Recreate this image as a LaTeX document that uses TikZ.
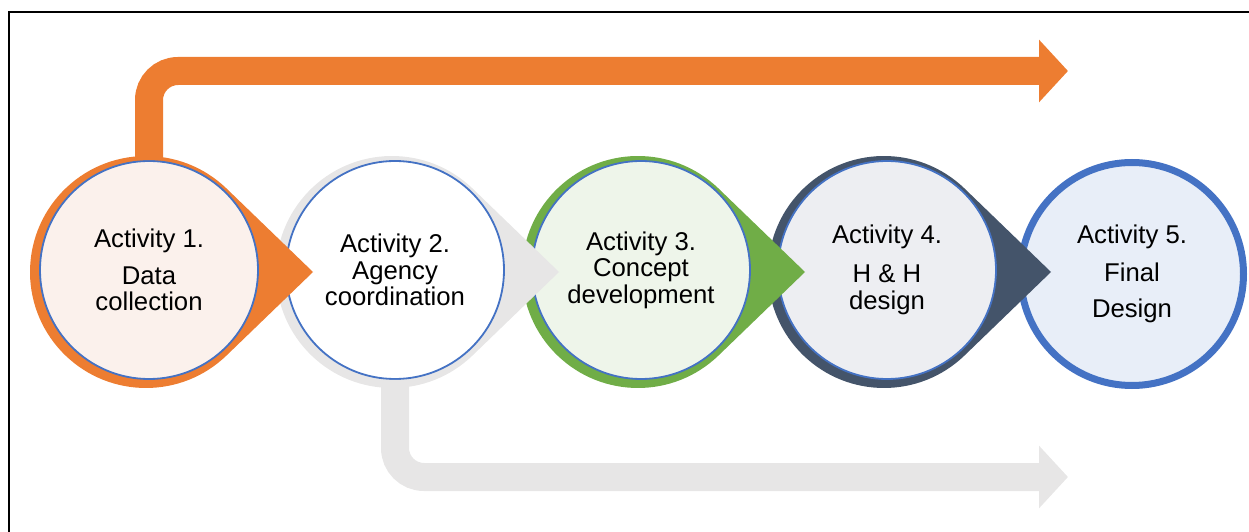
\documentclass[tikz,border=0pt]{standalone}
\usepackage{fontspec}
\setmainfont{Liberation Sans}
\usetikzlibrary{arrows.meta}

\definecolor{flowOrange}{HTML}{ED7D31}
\definecolor{flowGray}{HTML}{E7E6E6}
\definecolor{flowGreen}{HTML}{70AD47}
\definecolor{flowSlate}{HTML}{44546A}
\definecolor{ringBlue}{HTML}{4472C4}
\definecolor{fillOne}{HTML}{FBF1EC}
\definecolor{fillTwo}{HTML}{FFFFFF}
\definecolor{fillThree}{HTML}{EEF5EA}
\definecolor{fillFour}{HTML}{EDEEF2}
\definecolor{fillFive}{HTML}{E8EEF8}

\begin{document}
\begin{tikzpicture}[x=0.5pt,y=0.5pt,
  stage/.style={circle,draw=ringBlue,line width=0.9pt,minimum size=109pt,inner sep=0pt,
    align=center,font=\fontsize{12.85}{13.3}\selectfont},
  flow/.style={line width=14pt,rounded corners=14.5pt,
    -{Triangle[length=14.5pt,width=30.5pt]}}]
  \useasboundingbox (0,0) rectangle (1249,531);
  \draw[line width=1pt] (9,-10) |- (1260,519);

  % last activity: ring only, no pointer
  \node[stage,line width=3.5pt,minimum size=111.5pt,fill=fillFive] (act5) at (1132,257)
    {Activity 5.\\[6pt] Final\\[4.7pt] Design};

  % pointed discs, drawn right to left so each tip lies over the next circle
  \foreach \i/\tear/\inner/\txt in {
      4/flowSlate/fillFour/{Activity 4.\\[6.2pt] H \& H\\ design},
      3/flowGreen/fillThree/{Activity 3.\\ Concept\\ development},
      2/flowGray/fillTwo/{Activity 2.\\ Agency\\ coordination},
      1/flowOrange/fillOne/{Activity 1.\\[5.2pt] Data\\ collection}} {
    \pgfmathsetmacro{\cx}{148+246*(\i-1)}
    \pgfmathsetmacro{\ang}{acos(116/167)}
    \fill[\tear] (\cx+165,259) -- ([shift={(\ang:116)}]\cx-2,259)
      arc[start angle=\ang,end angle=360-\ang,radius=116] -- cycle;
    \node[stage,fill=\inner] (act\i) at (\cx+1,261) {\txt};
  }

  \coordinate (topEnd) at (1068,460);
  \coordinate (lowEnd) at (1068,54);
  \draw[flow,flowOrange] (act1.north) |- (topEnd);
  \draw[flow,flowGray] (act2.south) |- (lowEnd);
\end{tikzpicture}
\end{document}
